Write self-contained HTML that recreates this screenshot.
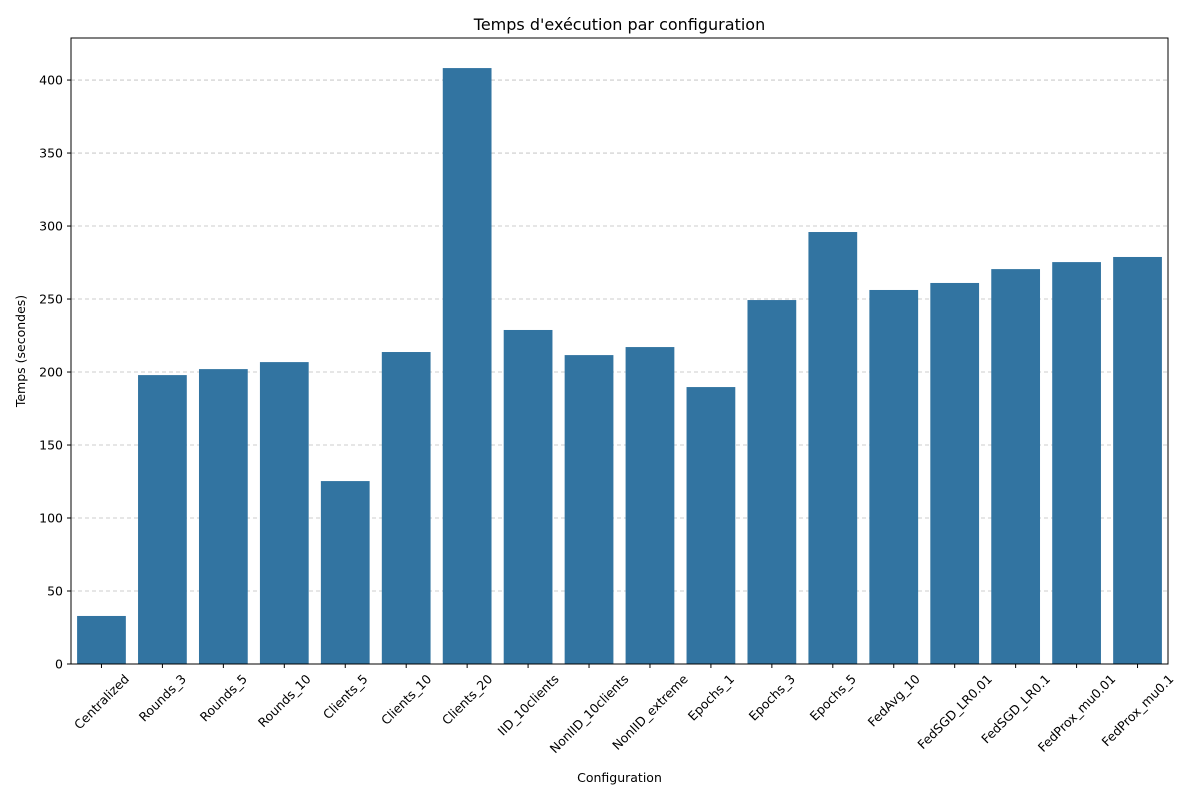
<!DOCTYPE html>
<html><head><meta charset="utf-8"><style>
html,body{margin:0;padding:0;background:#fff;}
svg{display:block;font-family:"DejaVu Sans","Liberation Sans",sans-serif;}
</style></head><body>
<svg id="chart" width="1200" height="800" viewBox="0 0 1200 800"></svg>
<script>
const categories=["Centralized","Rounds_3","Rounds_5","Rounds_10","Clients_5","Clients_10","Clients_20","IID_10clients","NonIID_10clients","NonIID_extreme","Epochs_1","Epochs_3","Epochs_5","FedAvg_10","FedSGD_LR0.01","FedSGD_LR0.1","FedProx_mu0.01","FedProx_mu0.1"];
const times=[32.9,197.9,202,206.8,125.3,213.7,408.2,228.8,211.6,217.1,189.7,249.3,295.9,256.2,261,270.5,275.3,278.8];
const yTicks=[0,50,100,150,200,250,300,350,400];

const NS="http://www.w3.org/2000/svg";
const svg=document.getElementById('chart');
const L=71,R=1168,T=38,B=664,yMax=428.8;
const y=v=>B-(v/yMax)*(B-T);
const slot=(R-L)/categories.length;
const xc=i=>L+slot*(i+0.5);
function mk(tag,attrs,parent){const e=document.createElementNS(NS,tag);for(const k in attrs)e.setAttribute(k,attrs[k]);(parent||svg).appendChild(e);return e;}

const grid=mk('g',{});


yTicks.forEach(t=>{
  const l=mk('line',{x1:L,x2:R,y1:y(t),y2:y(t),stroke:'#bdbdbd','stroke-width':0.8,'stroke-dasharray':'4,3'},grid);
  
  
});
const bars=mk('g',{});


times.forEach((v,i)=>{
  const w=slot*0.8;
  const r=mk('rect',{x:xc(i)-w/2,y:y(v),width:w,height:B-y(v),fill:'#3274a1'},bars);
  
  
});
const fr=mk('rect',{x:L,y:T,width:R-L,height:B-T,fill:'none',stroke:'#000','stroke-width':1});


yTicks.forEach(t=>{
  mk('line',{x1:L-4,x2:L,y1:y(t),y2:y(t),stroke:'#000'});
  const tx=mk('text',{x:L-8,y:y(t)+4.5,'text-anchor':'end','font-size':12.5,fill:'#000'});
  tx.textContent=t;
  
  
});
categories.forEach((c,i)=>{
  mk('line',{x1:xc(i),x2:xc(i),y1:B,y2:B+4,stroke:'#000'});
  const tx=mk('text',{x:0,y:0,'text-anchor':'middle','font-size':12.5,fill:'#000'});
  tx.textContent=c;
  
  
  const w=tx.getComputedTextLength();
  const h=(w+13)*0.7071;
  const cy=B+8+h/2;
  tx.setAttribute('transform',`translate(${xc(i)},${cy}) rotate(-45) translate(0,4.5)`);
});
const title=mk('text',{x:(L+R)/2,y:30,'text-anchor':'middle','font-size':16,fill:'#000'});
title.textContent="Temps d'exécution par configuration";


const xt=mk('text',{x:(L+R)/2,y:782,'text-anchor':'middle','font-size':12.5,fill:'#000'});
xt.textContent="Configuration";


const yt=mk('text',{x:0,y:0,'text-anchor':'middle','font-size':12.5,fill:'#000',transform:`translate(25,${(T+B)/2}) rotate(-90)`});
yt.textContent="Temps (secondes)";


</script>
</body></html>
